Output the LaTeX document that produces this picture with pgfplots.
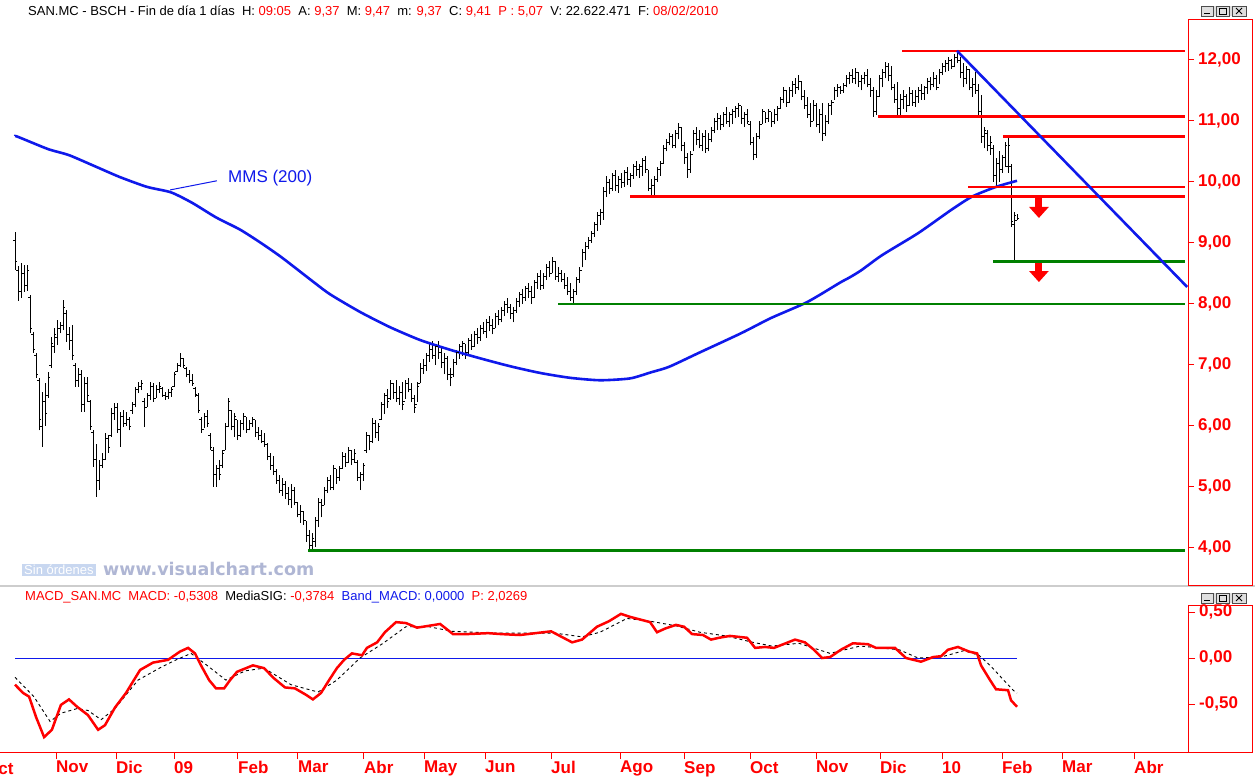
\documentclass[border=0pt]{standalone}
\usepackage{pgfplots}
\pgfplotsset{compat=1.18}
\usepackage{pgfplotstable}
\usepackage{fontspec}
\setmainfont{Liberation Sans}
\newfontfamily\dejavu{DejaVu Sans}
\usetikzlibrary{arrows.meta}

\definecolor{vred}{RGB}{255,0,0}
\definecolor{vgreen}{RGB}{0,128,0}
\definecolor{vblue}{RGB}{15,25,235}
\definecolor{wmblue}{RGB}{200,215,240}
\definecolor{wmgrey}{RGB}{175,182,212}
\definecolor{sepgrey}{RGB}{205,205,205}

\pgfdeclareplotmark{ohlcL}{\pgfpathmoveto{\pgfqpoint{-\pgfplotmarksize}{0pt}}\pgfpathlineto{\pgfqpoint{0pt}{0pt}}\pgfusepathqstroke}
\pgfdeclareplotmark{ohlcR}{\pgfpathmoveto{\pgfqpoint{0pt}{0pt}}\pgfpathlineto{\pgfqpoint{\pgfplotmarksize}{0pt}}\pgfusepathqstroke}

\pgfplotstableread{
i o h l c
5 9.05 9.18 8.56 8.70
6 8.55 8.62 8.05 8.20
7 8.20 8.67 8.10 8.50
8 8.50 8.64 8.20 8.30
9 8.30 8.64 8.22 8.55
10 8.10 8.15 7.52 7.60
11 7.50 7.54 7.20 7.25
12 7.15 7.20 6.79 6.85
13 6.75 6.79 5.93 6.10
14 6.00 6.56 5.66 6.40
15 6.40 6.70 6.00 6.20
16 6.50 6.89 6.46 6.80
17 7.00 7.46 6.95 7.35
18 7.30 7.60 7.20 7.50
19 7.45 7.74 7.33 7.60
20 7.60 7.70 7.52 7.65
21 7.65 8.07 7.57 7.95
22 7.85 7.90 7.38 7.50
23 7.50 7.62 7.25 7.40
24 7.40 7.66 7.08 7.15
25 7.00 7.03 6.64 6.75
26 6.75 6.95 6.64 6.85
27 6.85 6.92 6.23 6.35
28 6.35 6.80 6.23 6.70
29 6.70 6.80 6.39 6.50
30 6.40 6.43 5.93 6.00
31 5.90 5.93 5.33 5.45
32 5.45 5.70 4.84 5.10
33 5.10 5.45 4.95 5.35
34 5.35 5.56 5.31 5.45
35 5.45 5.89 5.44 5.80
36 5.80 5.85 5.56 5.65
37 5.85 6.30 5.82 6.20
38 6.20 6.38 6.10 6.30
39 6.30 6.38 5.89 5.95
40 5.95 6.23 5.66 6.15
41 6.15 6.26 5.98 6.05
42 6.05 6.23 6.00 6.10
43 6.10 6.15 5.93 6.00
44 6.25 6.39 6.20 6.35
45 6.35 6.64 6.31 6.60
46 6.60 6.72 6.54 6.65
47 6.65 6.75 6.59 6.70
48 6.40 6.46 5.98 6.30
49 6.30 6.54 6.31 6.50
50 6.50 6.72 6.43 6.65
51 6.65 6.70 6.40 6.45
52 6.45 6.67 6.46 6.60
53 6.60 6.72 6.54 6.65
54 6.62 6.64 6.48 6.50
55 6.50 6.56 6.43 6.48
56 6.48 6.60 6.44 6.55
57 6.55 6.64 6.48 6.60
58 6.65 6.89 6.64 6.85
59 6.90 7.03 6.89 7.00
60 7.00 7.20 6.97 7.10
61 7.10 7.12 6.95 7.00
62 6.95 6.97 6.80 6.85
63 6.85 6.92 6.70 6.75
64 6.75 6.85 6.66 6.70
65 6.62 6.64 6.48 6.52
66 6.50 6.54 6.21 6.25
67 6.10 6.15 5.89 5.95
68 5.95 6.21 5.97 6.15
69 6.15 6.26 5.98 6.05
70 5.85 5.89 5.61 5.65
71 5.60 5.66 5.00 5.20
72 5.20 5.36 5.00 5.30
73 5.30 5.44 5.11 5.20
74 5.35 5.61 5.31 5.55
75 5.60 6.05 5.61 6.00
76 6.00 6.46 5.98 6.40
77 6.25 6.26 5.93 6.00
78 6.00 6.21 5.82 6.15
79 6.10 6.10 5.77 5.85
80 5.85 6.10 5.82 6.05
81 6.05 6.21 5.93 6.15
82 6.15 6.15 5.89 5.95
83 5.95 6.10 5.93 6.05
84 6.05 6.15 5.98 6.10
85 6.10 6.10 5.82 5.90
86 5.90 5.98 5.77 5.85
87 5.85 5.93 5.72 5.75
88 5.75 5.89 5.66 5.70
89 5.70 5.72 5.44 5.50
90 5.50 5.56 5.28 5.35
91 5.35 5.50 5.20 5.25
92 5.25 5.30 5.05 5.10
93 5.10 5.20 4.90 4.95
94 4.95 5.15 4.85 5.05
95 5.05 5.10 4.80 4.90
96 4.90 5.00 4.70 4.80
97 4.80 5.05 4.66 4.95
98 4.95 5.00 4.70 4.75
99 4.75 4.75 4.50 4.55
100 4.55 4.70 4.41 4.60
101 4.60 4.60 4.38 4.45
102 4.45 4.45 4.10 4.20
103 4.20 4.30 3.93 4.05
104 4.05 4.25 3.95 4.15
105 4.10 4.51 4.02 4.45
106 4.45 4.82 4.34 4.75
107 4.75 4.80 4.50 4.70
108 4.70 5.00 4.70 4.95
109 4.95 5.16 4.90 5.10
110 5.10 5.20 4.95 5.00
111 5.00 5.36 4.95 5.30
112 5.30 5.30 5.05 5.15
113 5.15 5.35 5.10 5.30
114 5.30 5.57 5.30 5.50
115 5.50 5.55 5.33 5.40
116 5.40 5.66 5.40 5.60
117 5.60 5.60 5.36 5.45
118 5.45 5.62 5.40 5.55
119 5.40 5.44 5.10 5.15
120 5.15 5.25 4.95 5.20
121 5.20 5.40 5.10 5.35
122 5.60 5.90 5.56 5.85
123 5.85 5.85 5.60 5.75
124 5.75 6.13 5.72 6.05
125 6.05 6.10 5.80 5.90
126 5.90 6.05 5.75 6.00
127 6.10 6.40 6.10 6.35
128 6.35 6.54 6.20 6.50
129 6.50 6.60 6.30 6.40
130 6.45 6.75 6.43 6.70
131 6.70 6.70 6.45 6.55
132 6.55 6.75 6.40 6.45
133 6.45 6.65 6.35 6.55
134 6.55 6.72 6.26 6.35
135 6.40 6.75 6.45 6.70
136 6.70 6.78 6.55 6.60
137 6.60 6.70 6.40 6.45
138 6.45 6.50 6.22 6.30
139 6.35 6.72 6.40 6.65
140 6.70 7.03 6.70 6.95
141 6.95 7.10 6.85 7.00
142 7.00 7.20 6.90 7.15
143 7.15 7.35 7.05 7.25
144 7.25 7.40 7.10 7.15
145 7.15 7.35 7.00 7.30
146 7.30 7.40 7.10 7.20
147 7.20 7.30 6.95 7.05
148 7.05 7.20 6.85 7.10
149 7.10 7.15 6.75 6.85
150 6.85 6.95 6.65 6.80
151 6.85 7.10 6.80 7.05
152 7.05 7.25 7.00 7.20
153 7.20 7.35 7.10 7.30
154 7.30 7.40 7.15 7.35
155 7.35 7.35 7.10 7.20
156 7.20 7.45 7.15 7.40
157 7.40 7.50 7.25 7.30
158 7.30 7.55 7.30 7.50
159 7.50 7.60 7.35 7.45
160 7.45 7.65 7.40 7.60
161 7.60 7.70 7.50 7.55
162 7.55 7.75 7.45 7.70
163 7.70 7.80 7.55 7.65
164 7.65 7.75 7.50 7.60
165 7.60 7.85 7.60 7.80
166 7.80 7.90 7.65 7.75
167 7.75 7.95 7.70 7.90
168 7.90 8.05 7.80 8.00
169 8.00 8.10 7.85 7.95
170 7.95 8.00 7.75 7.85
171 7.85 7.95 7.70 7.90
172 7.90 8.10 7.85 8.05
173 8.05 8.20 7.95 8.15
174 8.15 8.25 8.00 8.10
175 8.10 8.30 8.05 8.25
176 8.25 8.35 8.10 8.20
177 8.20 8.30 8.00 8.10
178 8.10 8.40 8.10 8.35
179 8.35 8.50 8.25 8.45
180 8.45 8.55 8.23 8.30
181 8.30 8.50 8.25 8.45
182 8.45 8.65 8.40 8.60
183 8.60 8.70 8.45 8.50
184 8.50 8.77 8.50 8.70
185 8.70 8.70 8.40 8.45
186 8.45 8.60 8.36 8.50
187 8.50 8.55 8.36 8.40
188 8.40 8.50 8.25 8.30
189 8.30 8.44 8.15 8.20
190 8.20 8.35 8.05 8.10
191 8.10 8.25 8.00 8.20
192 8.20 8.45 8.15 8.40
193 8.40 8.60 8.35 8.55
194 8.55 8.90 8.60 8.85
195 8.85 9.02 8.72 8.95
196 8.95 9.10 8.90 9.05
197 9.05 9.20 9.00 9.15
198 9.15 9.35 9.10 9.30
199 9.30 9.50 9.20 9.45
200 9.45 9.55 9.30 9.50
201 9.50 9.92 9.38 9.85
202 9.85 10.10 9.75 10.00
203 10.00 10.05 9.80 9.90
204 9.90 10.15 9.85 10.10
205 10.10 10.20 9.85 9.95
206 9.95 10.10 9.82 10.05
207 10.05 10.15 9.90 10.00
208 10.00 10.20 9.92 10.15
209 10.15 10.25 9.95 10.05
210 10.05 10.15 9.92 10.10
211 10.10 10.30 10.05 10.25
212 10.25 10.35 10.10 10.20
213 10.20 10.30 10.07 10.25
214 10.25 10.40 10.10 10.35
215 10.35 10.42 10.15 10.20
216 10.20 10.20 9.85 9.90
217 9.90 10.05 9.75 9.95
218 9.95 10.10 9.78 10.05
219 10.05 10.25 10.00 10.20
220 10.20 10.35 10.10 10.30
221 10.30 10.60 10.30 10.55
222 10.55 10.70 10.50 10.65
223 10.65 10.80 10.60 10.75
224 10.75 10.78 10.55 10.60
225 10.60 10.85 10.55 10.80
226 10.80 10.97 10.70 10.90
227 10.90 10.90 10.50 10.60
228 10.60 10.65 10.30 10.40
229 10.40 10.48 10.07 10.20
230 10.20 10.50 10.15 10.45
231 10.45 10.85 10.50 10.80
232 10.80 10.90 10.60 10.70
233 10.70 10.85 10.55 10.60
234 10.60 10.80 10.50 10.75
235 10.75 10.85 10.48 10.55
236 10.55 10.80 10.50 10.70
237 10.70 10.90 10.65 10.85
238 10.85 11.05 10.80 11.00
239 11.00 11.13 10.85 11.05
240 11.05 11.10 10.85 10.95
241 10.95 11.15 10.90 11.10
242 11.10 11.23 10.95 11.00
243 11.00 11.15 10.90 11.10
244 11.10 11.20 10.95 11.15
245 11.15 11.25 11.05 11.20
246 11.20 11.30 11.07 11.25
247 11.25 11.25 10.95 11.05
248 11.05 11.15 10.90 11.10
249 11.10 11.20 10.95 11.00
250 10.95 11.00 10.60 10.65
251 10.65 10.74 10.36 10.45
252 10.45 10.80 10.40 10.75
253 10.75 11.00 10.70 10.95
254 10.95 11.20 10.95 11.15
255 11.15 11.15 10.97 11.05
256 11.05 11.20 10.98 11.15
257 11.15 11.15 10.90 11.00
258 11.00 11.20 10.95 11.10
259 11.10 11.25 11.00 11.20
260 11.20 11.40 11.20 11.35
261 11.35 11.56 11.30 11.50
262 11.50 11.50 11.23 11.30
263 11.30 11.55 11.30 11.50
264 11.50 11.65 11.40 11.60
265 11.60 11.70 11.45 11.55
266 11.55 11.75 11.50 11.65
267 11.65 11.65 11.34 11.40
268 11.40 11.50 11.20 11.25
269 11.25 11.40 11.05 11.10
270 11.10 11.30 10.90 11.00
271 11.00 11.35 11.00 11.25
272 11.25 11.30 10.90 10.95
273 10.95 11.20 10.80 11.10
274 11.10 11.30 10.67 10.80
275 10.80 11.10 10.75 11.00
276 11.00 11.30 10.95 11.25
277 11.25 11.35 11.10 11.30
278 11.30 11.55 11.35 11.50
279 11.50 11.60 11.40 11.55
280 11.55 11.58 11.45 11.50
281 11.50 11.62 11.46 11.58
282 11.58 11.75 11.55 11.70
283 11.70 11.80 11.60 11.75
284 11.75 11.85 11.62 11.70
285 11.70 11.87 11.60 11.80
286 11.80 11.80 11.55 11.65
287 11.65 11.75 11.50 11.70
288 11.70 11.80 11.60 11.75
289 11.75 11.85 11.55 11.60
290 11.60 11.70 11.40 11.50
291 11.50 11.55 11.07 11.15
292 11.15 11.50 11.10 11.40
293 11.40 11.75 11.40 11.70
294 11.70 11.85 11.55 11.80
295 11.80 11.97 11.70 11.90
296 11.90 11.95 11.65 11.75
297 11.75 11.90 11.50 11.55
298 11.55 11.60 11.30 11.35
299 11.35 11.64 11.07 11.20
300 11.20 11.45 11.10 11.35
301 11.35 11.50 11.20 11.40
302 11.40 11.45 11.15 11.25
303 11.25 11.56 11.25 11.45
304 11.45 11.50 11.25 11.30
305 11.30 11.50 11.23 11.40
306 11.40 11.55 11.30 11.50
307 11.50 11.60 11.35 11.45
308 11.45 11.58 11.35 11.55
309 11.55 11.70 11.45 11.65
310 11.65 11.72 11.50 11.60
311 11.60 11.80 11.55 11.70
312 11.70 11.75 11.50 11.55
313 11.55 11.85 11.60 11.80
314 11.80 11.95 11.75 11.90
315 11.90 12.00 11.80 11.95
316 11.95 12.05 11.82 12.00
317 12.00 12.02 11.85 11.90
318 11.90 12.10 11.88 12.05
319 12.05 12.15 11.95 12.00
320 12.00 12.05 11.70 11.80
321 11.80 11.95 11.55 11.70
322 11.70 11.90 11.60 11.85
323 11.85 11.85 11.50 11.55
324 11.55 11.70 11.40 11.60
325 11.60 11.80 11.45 11.50
326 11.50 11.60 11.07 11.15
327 11.15 11.43 10.64 10.75
328 10.75 10.90 10.55 10.85
329 10.80 10.85 10.50 10.60
330 10.60 10.75 10.45 10.65
331 10.55 10.60 10.00 10.10
332 10.10 10.40 9.92 10.30
333 10.30 10.50 10.00 10.20
334 10.20 10.45 10.15 10.40
335 10.40 10.65 10.25 10.60
336 10.25 10.75 10.15 10.60
337 10.25 10.30 9.26 9.35
338 9.30 9.50 8.70 9.45
339 9.37 9.47 9.37 9.41
}\ohlc

\pgfplotstableread{
i v
5 10.75
6 10.74
16 10.54
23 10.44
32 10.25
40 10.08
49 9.92
57 9.83
64 9.66
72 9.42
80 9.22
87 9.00
94 8.76
104 8.38
110 8.16
120 7.87
130 7.62
140 7.41
150 7.25
160 7.11
170 6.98
180 6.87
190 6.79
200 6.75
210 6.78
217 6.88
223 6.97
233 7.20
247 7.52
257 7.77
269 8.03
280 8.35
283 8.43
287 8.55
294 8.80
306 9.16
317 9.54
324 9.76
332 9.92
339 10.02
}\mma

\pgfplotstableread{
i v
5 -0.29
7.7 -0.38
9.7 -0.42
12 -0.64
14.7 -0.86
17.3 -0.78
20.3 -0.51
23 -0.45
25.7 -0.53
29.3 -0.62
32.7 -0.78
35 -0.73
38.3 -0.54
42 -0.38
46.7 -0.13
51 -0.05
56 -0.02
60 0.07
62.7 0.11
65 0.05
67 -0.08
69.7 -0.24
72 -0.33
74.7 -0.33
76.7 -0.24
79 -0.15
84.3 -0.08
88 -0.11
91.3 -0.22
95 -0.32
98.3 -0.33
102 -0.40
104.3 -0.45
107 -0.38
109.7 -0.24
112.3 -0.11
114.7 -0.02
117.3 0.05
120.7 0.03
122.3 0.11
125.7 0.17
128.3 0.28
132 0.39
135.3 0.38
139 0.33
143 0.35
146.7 0.37
151 0.26
155.7 0.26
162.7 0.27
167 0.26
173.3 0.25
183.7 0.29
190.7 0.17
194 0.20
199 0.34
203 0.40
207 0.48
209.7 0.45
216.7 0.39
219 0.28
221.7 0.32
225.3 0.36
228 0.34
230.7 0.26
234.3 0.25
237 0.20
239.7 0.22
243.3 0.24
249 0.22
251.7 0.11
255 0.12
258 0.11
265 0.20
268.3 0.17
271.3 0.09
274 0.00
276.7 0.01
280.3 0.09
284.3 0.16
289.3 0.15
292 0.11
298.3 0.11
302 0.00
307 -0.04
311 0.01
313.7 0.02
316 0.09
319.3 0.12
323 0.07
325.7 0.05
327 -0.08
330 -0.24
332 -0.34
336 -0.35
337 -0.46
339 -0.53
}\macd

\pgfplotstableread{
i v
5 -0.21
11.3 -0.42
16.7 -0.69
20.3 -0.60
25.7 -0.55
29.3 -0.57
33.7 -0.67
38.3 -0.55
46 -0.24
53.7 -0.10
58.7 -0.02
63.7 0.05
69 -0.08
75.3 -0.24
81.7 -0.14
88 -0.11
97 -0.29
106 -0.37
112.3 -0.24
120 0.00
127.7 0.16
135.3 0.34
143 0.34
150.7 0.29
166 0.27
185 0.27
194 0.23
200 0.28
209 0.43
216.7 0.40
225.3 0.35
233.3 0.28
242 0.24
251 0.17
257.3 0.13
266.3 0.16
276.7 0.05
286.7 0.13
299.7 0.09
306 0.00
313.7 0.01
321.3 0.08
326.3 0.03
330 -0.08
334 -0.22
337.7 -0.35
339 -0.38
}\sig

\begin{document}
\begin{tikzpicture}
\begin{scope}[x=1pt,y=1pt]
\fill[white] (0,0) rectangle (1255,780);
% header
\node[anchor=west, inner sep=0, font=\fontsize{13}{13}\selectfont] at (28,768)
 {SAN.MC - BSCH - Fin de día 1 días\ \ H: \textcolor{vred}{09:05}\ \ A: \textcolor{vred}{9,37}\ \ M: \textcolor{vred}{9,47}\ \ m: \textcolor{vred}{9,37}\ \ C: \textcolor{vred}{9,41}\ \ \textcolor{vred}{P : 5,07}\ \ V: 22.622.471\ \ F: \textcolor{vred}{08/02/2010}};
% MACD title
\node[anchor=west, inner sep=0, font=\fontsize{13}{13}\selectfont] at (25,183)
 {\textcolor{vred}{MACD\_SAN.MC\ \ MACD: -0,5308}\ \ MediaSIG: \textcolor{vred}{-0,3784}\ \ \textcolor{vblue}{Band\_MACD: 0,0000}\ \ \textcolor{vred}{P: 2,0269}};
\end{scope}

% main price panel
\begin{axis}[
  at={(0pt,195pt)}, anchor=south west, scale only axis,
  width=1188pt, height=565pt,
  xmin=0, xmax=396, ymin=3.3934, ymax=12.6557,
  axis x line*=bottom, axis y line*=right,
  x axis line style={draw=none}, xtick=\empty,
  y axis line style={draw=vred, line width=1pt},
  ytick={4,5,6,7,8,9,10,11,12},
  yticklabels={{4,00},{5,00},{6,00},{7,00},{8,00},{9,00},{10,00},{11,00},{12,00}},
  tick align=outside, major tick length=6pt,
  ytick style={draw=vred, line width=1pt},
  yticklabel style={font=\bfseries\fontsize{17}{17}\selectfont, text=vred, inner sep=2pt, xshift=2pt},
  clip=true,
]
% OHLC bars
\addplot[draw=none, mark=none,
  error bars/.cd, y dir=plus, y explicit, error mark=none,
  error bar style={draw=black, line width=0.9pt}]
  table[x=i, y=l, y error plus expr=\thisrow{h}-\thisrow{l}] {\ohlc};
\addplot[only marks, mark=ohlcL, mark size=2pt, black, line width=0.8pt] table[x=i, y=o] {\ohlc};
\addplot[only marks, mark=ohlcR, mark size=2pt, black, line width=0.8pt] table[x=i, y=c] {\ohlc};
% moving average
\addplot[vblue, line width=2.6pt, smooth, tension=0.4] table[x=i, y=v] {\mma};
% support / resistance lines
\addplot[vred, line width=2.6pt] coordinates {(300.7,12.15) (395,12.15)};
\addplot[vred, line width=2.6pt] coordinates {(292.7,11.07) (395,11.07)};
\addplot[vred, line width=2.6pt] coordinates {(334.3,10.75) (395,10.75)};
\addplot[vred, line width=2.6pt] coordinates {(322.7,9.92) (395,9.92)};
\addplot[vred, line width=2.6pt] coordinates {(210,9.76) (395,9.76)};
\addplot[vgreen, line width=2.6pt] coordinates {(331,8.70) (395,8.70)};
\addplot[vgreen, line width=2.6pt] coordinates {(186,8.00) (395,8.00)};
\addplot[vgreen, line width=2.6pt] coordinates {(102.7,3.96) (395,3.96)};
% trend line
\addplot[vblue, line width=2.6pt] coordinates {(319,12.15) (395.7,8.28)};
% arrows
\draw[vred, line width=7pt, -{Triangle[width=19pt,length=11pt]}] (axis cs:346.3,9.76) -- (axis cs:346.3,9.41);
\draw[vred, line width=7pt, -{Triangle[width=19pt,length=11pt]}] (axis cs:346.3,8.68) -- (axis cs:346.3,8.36);
% MMS label
\draw[vblue, line width=1pt] (axis cs:56.7,9.87) -- (axis cs:72.3,10.02);
\node[anchor=west, text=vblue, font=\fontsize{17}{17}\selectfont, inner sep=0] at (axis cs:76,10.07) {MMS (200)};
\end{axis}

% MACD panel
\begin{axis}[
  at={(0pt,28pt)}, anchor=south west, scale only axis,
  width=1188pt, height=147pt,
  xmin=0, xmax=396, ymin=-1.0217, ymax=0.5761,
  axis x line*=bottom, axis y line*=right,
  x axis line style={draw=vred, line width=1pt, -},
  y axis line style={draw=vred, line width=1pt, -},
  ytick={-0.5,0,0.5},
  yticklabels={{-0,50},{0,00},{0,50}},
  xtick={18.67,38.67,58,79.33,99.33,121.33,141.33,161.67,183.67,206.67,228,250,272,293.33,314,334,354,378},
  xticklabels={Nov,Dic,09,Feb,Mar,Abr,May,Jun,Jul,Ago,Sep,Oct,Nov,Dic,10,Feb,Mar,Abr},
  tick align=outside, major tick length=7pt,
  tick style={draw=vred, line width=1pt},
  yticklabel style={font=\bfseries\fontsize{17}{17}\selectfont, text=vred, inner sep=2pt, xshift=2pt},
  xticklabel style={font=\bfseries\fontsize{17}{17}\selectfont, text=vred, anchor=north west, inner sep=1pt, xshift=-1pt, yshift=-1pt},
  clip=true,
]
\addplot[vblue, line width=1pt] coordinates {(5,0) (339,0)};
\addplot[black, line width=0.9pt, dash pattern=on 3pt off 3pt] table[x=i, y=v] {\sig};
\addplot[vred, line width=2.5pt] table[x=i, y=v] {\macd};
\end{axis}

\begin{scope}[x=1pt,y=1pt]
\node[anchor=north west, text=vred, font=\bfseries\fontsize{17}{17}\selectfont, inner sep=1pt] at (-16,19) {Oct};
% watermark
\node[anchor=west, fill=wmblue, text=white, inner xsep=2pt, inner ysep=1.5pt, font=\fontsize{13}{13}\selectfont] at (22,210) {Sin órdenes};
\node[anchor=west, text=wmgrey, font=\dejavu\bfseries\fontsize{17.5}{17.5}\selectfont, inner sep=0] at (103,211) {www.visualchart.com};
% separator
\draw[sepgrey, line width=1.5pt] (0,194) -- (1255,194);
% right scale frames
\draw[vred, line width=1pt] (1188,195) rectangle (1252,760);
\draw[vred, line width=1pt] (1188,28) rectangle (1252,175);
\draw[vred, line width=1pt] (0,28) -- (1252,28);
% window buttons
\foreach \yy in {764,177}{
  \fill[gray!25] (1201,\yy) rectangle (1246,\yy+10);
  \draw[gray!60!black, line width=0.6pt] (1201,\yy) rectangle (1213,\yy+10);
  \draw[gray!60!black, line width=0.6pt] (1216,\yy) rectangle (1229,\yy+10);
  \draw[gray!60!black, line width=0.6pt] (1232,\yy) rectangle (1246,\yy+10);
  \draw[black, line width=1.2pt] (1204,\yy+2.5) -- (1210,\yy+2.5);
  \draw[black, line width=0.8pt] (1219,\yy+2) rectangle (1226,\yy+8);
  \draw[black, line width=0.9pt] (1236,\yy+2) -- (1242,\yy+8) (1236,\yy+8) -- (1242,\yy+2);
}
\end{scope}

\pgfresetboundingbox
\path[use as bounding box] (0pt,0pt) rectangle (1255pt,780pt);
\end{tikzpicture}
\end{document}
